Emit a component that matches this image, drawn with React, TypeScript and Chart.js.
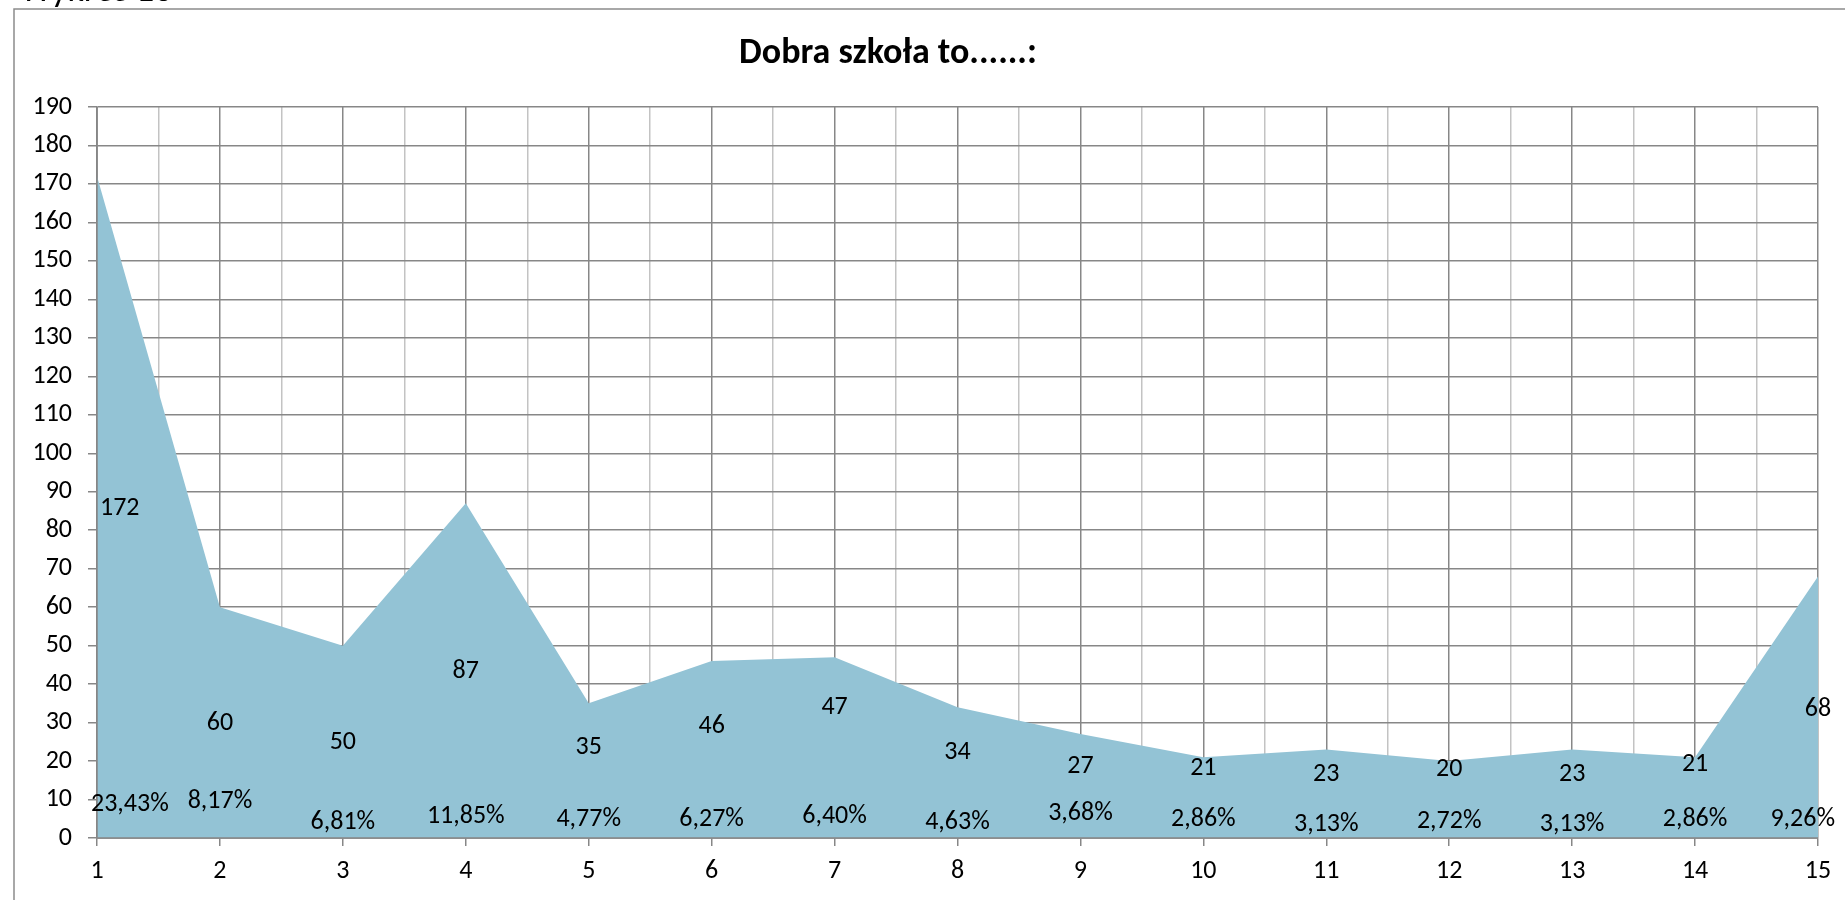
import React, { useEffect, useRef } from "react";
import { Chart, registerables } from "chart.js";

Chart.register(...registerables);

// ---- data ----
const categories: string[] = ["1", "2", "3", "4", "5", "6", "7", "8", "9", "10", "11", "12", "13", "14", "15"];
const counts: number[] = [172, 60, 50, 87, 35, 46, 47, 34, 27, 21, 23, 20, 23, 21, 68];
const percents: number[] = [23.43, 8.17, 6.81, 11.85, 4.77, 6.27, 6.4, 4.63, 3.68, 2.86, 3.13, 2.72, 3.13, 2.86, 9.26];
// where the data labels sit (in axis units)
const countLabelAt: number[] = [85.6, 29.7, 24.7, 43.3, 23.5, 28.9, 33.9, 22.1, 18.5, 18.1, 16.4, 17.7, 16.4, 19, 33.3];
const percentLabelAt: number[] = [8.6, 9.5, 4.0, 5.7, 4.7, 4.9, 5.7, 4.0, 6.4, 4.9, 3.4, 4.2, 3.4, 4.8, 4.8];
const yMin = 0;
const yMax = 190;
const yStep = 10;
const titleText = "Dobra szkoła to......:";
const captionText = "Wykres 16";

const FONT = "Calibri, Carlito, Lato, sans-serif";
const DARK = "#878787";
const LIGHT = "#c3c3c3";
const FILL = "#93c3d5";

const fmtPct = (v: number) => v.toFixed(2).replace(".", ",") + "%";

const overlay = {
  id: "overlay",
  beforeDraw(chart: any) {
    const ctx = chart.ctx;
    ctx.save();
    ctx.fillStyle = "#ffffff";
    ctx.fillRect(0, 0, chart.width, chart.height);
    // caption cut by the top edge
    ctx.fillStyle = "#000";
    ctx.font = `36px ${FONT}`;
    ctx.textAlign = "left";
    ctx.textBaseline = "alphabetic";
    ctx.fillText(captionText, 20, 1);
    // outer frame
    ctx.strokeStyle = "#8c8c8c";
    ctx.lineWidth = 1.5;
    ctx.beginPath();
    ctx.moveTo(14, chart.height);
    ctx.lineTo(14, 9);
    ctx.lineTo(chart.width, 9);
    ctx.stroke();
    // title
    ctx.font = `bold 36px ${FONT}`;
    ctx.textAlign = "center";
    ctx.textBaseline = "middle";
    ctx.fillText(titleText, 888, 54);
    ctx.restore();
  },
  afterDatasetsDraw(chart: any) {
    const ctx = chart.ctx;
    const xs = chart.scales.x;
    const ys = chart.scales.y;
    const area = chart.chartArea;
    ctx.save();
    // axis lines on top of the area
    ctx.strokeStyle = DARK;
    ctx.lineWidth = 1.5;
    ctx.beginPath();
    ctx.moveTo(area.left, area.top);
    ctx.lineTo(area.left, area.bottom);
    ctx.lineTo(area.right, area.bottom);
    ctx.stroke();
    // data labels
    ctx.fillStyle = "#000";
    ctx.font = `26px ${FONT}`;
    ctx.textAlign = "center";
    ctx.textBaseline = "middle";
    const place = (text: string, i: number, at: number, minLeft: number) => {
      const w = ctx.measureText(text).width;
      let x = xs.getPixelForValue(i + 1);
      if (x - w / 2 < minLeft) x = minLeft + w / 2;
      if (x + w / 2 > area.right + 17) x = area.right + 17 - w / 2;
      ctx.fillText(text, x, ys.getPixelForValue(at));
    };
    counts.forEach((v, i) => place(String(v), i, countLabelAt[i], area.left + 3));
    percents.forEach((v, i) => place(fmtPct(v), i, percentLabelAt[i], area.left - 6));
    ctx.restore();
  },
};

export default function App() {
  const ref = useRef<HTMLCanvasElement | null>(null);
  useEffect(() => {
    if (!ref.current) return;
    const chart = new Chart(ref.current, {
      type: "line",
      data: {
        datasets: [
          {
            label: "Dobra szkoła",
            data: counts.map((v, i) => ({ x: i + 1, y: v })),
            fill: "origin",
            backgroundColor: FILL,
            borderWidth: 0,
            borderColor: FILL,
            pointRadius: 0,
            tension: 0,
          },
        ],
      },
      options: {
        responsive: false,
        animation: false,
        layout: { padding: { left: 0, right: 27, top: 107, bottom: 0 } },
        plugins: {
          legend: { display: false },
          title: { display: false },
          tooltip: { enabled: false },
        },
        scales: {
          x: {
            type: "linear",
            min: 1,
            max: categories.length,
            afterFit: (s: any) => {
              s.height = 62;
            },
            afterBuildTicks: (s: any) => {
              const t: any[] = [];
              for (let v = 1; v <= categories.length + 1e-9; v += 0.5) t.push({ value: v });
              s.ticks = t;
            },
            ticks: {
              autoSkip: false,
              maxRotation: 0,
              padding: 10,
              color: "#000",
              font: { family: FONT, size: 26 },
              callback: (v: any) => (Number.isInteger(v) ? categories[v - 1] : ""),
            },
            grid: {
              color: (c: any) => (Number.isInteger(c.tick?.value) ? DARK : LIGHT),
              tickColor: (c: any) => (Number.isInteger(c.tick?.value) ? DARK : "rgba(0,0,0,0)"),
              lineWidth: 1.5,
              tickLength: 8,
            },
            border: { display: true, color: DARK, width: 1.5 },
          },
          y: {
            min: yMin,
            max: yMax,
            afterFit: (s: any) => {
              s.width = 97;
            },
            ticks: {
              stepSize: yStep,
              padding: 16,
              color: "#000",
              font: { family: FONT, size: 26 },
            },
            grid: { color: DARK, lineWidth: 1.5, tickLength: 9 },
            border: { display: true, color: DARK, width: 1.5 },
          },
        },
      },
      plugins: [overlay],
    });
    return () => chart.destroy();
  }, []);
  return (
    <div style={{ position: "absolute", left: 0, top: 0, width: 1845, height: 900, background: "#fff" }}>
      <canvas ref={ref} width={1845} height={900} style={{ display: "block" }} />
    </div>
  );
}
